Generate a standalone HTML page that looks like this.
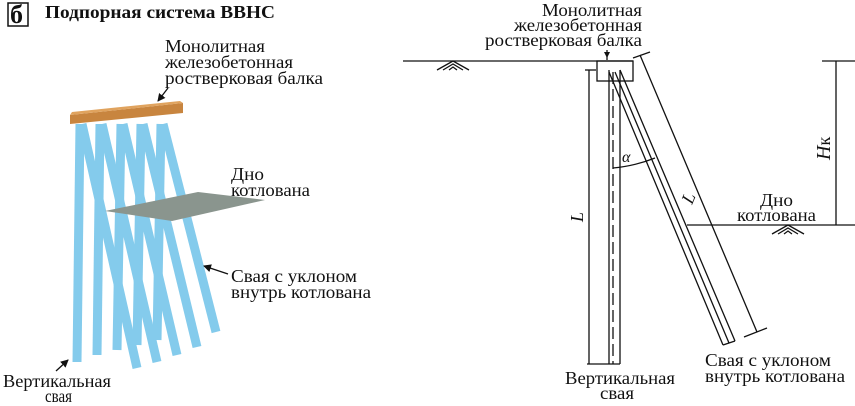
<!DOCTYPE html>
<html><head><meta charset="utf-8"><style>
body{margin:0;background:#fff}
svg{display:block}
text{font-family:"Liberation Serif","Times New Roman",serif;font-size:18px;fill:#111}
</style></head><body>
<svg width="855" height="406" viewBox="0 0 855 406" xmlns="http://www.w3.org/2000/svg" font-family="Liberation Serif, serif">
<defs><marker id="ar" markerWidth="8" markerHeight="8" refX="7" refY="4" orient="auto" markerUnits="userSpaceOnUse"><path d="M0,0 L8,4 L0,8 z" fill="#111"/></marker></defs>
<!-- left -->
<rect x="8" y="3" width="20" height="23" fill="none" stroke="#111" stroke-width="1.5"/>
<text x="10" y="23" style="font-size:26px;font-weight:bold">б</text>
<text x="45" y="18" textLength="230" lengthAdjust="spacingAndGlyphs" style="font-weight:bold;font-size:18px">Подпорная система ВВНС</text>
<g stroke="#84cbec" stroke-width="9" stroke-linecap="butt">
<line x1="80" y1="124" x2="77" y2="362"/>
<line x1="100" y1="124" x2="97" y2="355"/>
<line x1="121" y1="124" x2="117" y2="350"/>
<line x1="141" y1="124" x2="137" y2="345"/>
<line x1="161" y1="124" x2="157" y2="340"/>
<line x1="82" y1="124" x2="137" y2="368"/>
<line x1="102" y1="124" x2="157" y2="362"/>
<line x1="123" y1="124" x2="177" y2="355"/>
<line x1="143" y1="124" x2="197" y2="347"/>
<line x1="163" y1="124" x2="216" y2="332"/>
</g>
<polygon points="105,211 198,192 265,200 172,221" fill="#8a958e"/>
<polygon points="70,115 183,103 183,113 70,124" fill="#c8853f"/>
<polygon points="70,115 183,103 180,101 72,112" fill="#e0a35e"/>
<text x="165" y="52" textLength="100" lengthAdjust="spacingAndGlyphs">Монолитная</text>
<text x="165" y="68" textLength="128" lengthAdjust="spacingAndGlyphs">железобетонная</text>
<text x="165" y="84" textLength="158" lengthAdjust="spacingAndGlyphs">ростверковая балка</text>
<line x1="168" y1="88" x2="158" y2="101" stroke="#111" stroke-width="1.3" marker-end="url(#ar)"/>
<text x="231" y="180" textLength="33" lengthAdjust="spacingAndGlyphs">Дно</text>
<text x="231" y="196" textLength="79" lengthAdjust="spacingAndGlyphs">котлована</text>
<text x="231" y="282" textLength="126" lengthAdjust="spacingAndGlyphs">Свая с уклоном</text>
<text x="231" y="298" textLength="140" lengthAdjust="spacingAndGlyphs">внутрь котлована</text>
<line x1="228" y1="274" x2="204" y2="266" stroke="#111" stroke-width="1.3" marker-end="url(#ar)"/>
<text x="3" y="387" textLength="108" lengthAdjust="spacingAndGlyphs">Вертикальная</text>
<text x="45" y="402" textLength="27" lengthAdjust="spacingAndGlyphs">свая</text>
<line x1="56" y1="371" x2="68" y2="360" stroke="#111" stroke-width="1.3" marker-end="url(#ar)"/>
<!-- right -->
<g stroke="#111" stroke-width="1.3" fill="none">
<line x1="403" y1="61" x2="633" y2="61"/>
<rect x="597" y="61" width="36" height="20"/>
<line x1="609" y1="70" x2="609" y2="364"/>
<line x1="620" y1="70" x2="620" y2="364"/>
<line x1="613" y1="72" x2="613" y2="364" stroke-dasharray="12,5"/>
<line x1="587" y1="364" x2="620" y2="364"/>
<line x1="589" y1="70" x2="589" y2="364"/>
<line x1="585" y1="70" x2="596" y2="70"/>
<line x1="609" y1="72" x2="723" y2="345"/>
<line x1="615" y1="72" x2="729" y2="343"/>
<line x1="620" y1="70" x2="735" y2="341"/>
<line x1="723" y1="345" x2="735" y2="341"/>
<line x1="640" y1="55" x2="757" y2="332"/>
<line x1="633" y1="58" x2="650" y2="52"/>
<line x1="744" y1="337" x2="767" y2="328"/>
<line x1="687" y1="225" x2="855" y2="225"/>
<line x1="836" y1="61" x2="836" y2="225"/>
<line x1="822" y1="61" x2="855" y2="61"/>
<path d="M613,168 Q635,166 655,158"/>
<line x1="607" y1="60" x2="607" y2="50"/>
<path d="M437,70 L453,61 L469,70 M443,70 L453,64 L463,70 M449,70 L453,67 L457,70"/>
<path d="M772,234 L788,225 L804,234 M778,234 L788,228 L798,234 M784,234 L788,231 L792,234"/>
</g>
<path d="M604,52 L607,58 L610,52z" fill="#111"/>
<text x="542" y="16" textLength="100" lengthAdjust="spacingAndGlyphs">Монолитная</text>
<text x="514" y="31" textLength="128" lengthAdjust="spacingAndGlyphs">железобетонная</text>
<text x="485" y="46" textLength="157" lengthAdjust="spacingAndGlyphs">ростверковая балка</text>
<text x="622" y="162" style="font-style:italic;font-size:16px">α</text>
<text x="0" y="0" transform="translate(583,222) rotate(-90)" style="font-style:italic">L</text>
<text x="0" y="0" transform="translate(692,205) rotate(-67)" style="font-style:italic">L</text>
<text x="0" y="0" transform="translate(830,160) rotate(-90)" style="font-style:italic;font-size:20px">H<tspan style="font-style:normal;font-size:18px">к</tspan></text>
<text x="760" y="206" textLength="33" lengthAdjust="spacingAndGlyphs">Дно</text>
<text x="737" y="221" textLength="79" lengthAdjust="spacingAndGlyphs">котлована</text>
<text x="705" y="366" textLength="126" lengthAdjust="spacingAndGlyphs">Свая с уклоном</text>
<text x="705" y="382" textLength="140" lengthAdjust="spacingAndGlyphs">внутрь котлована</text>
<text x="565" y="384" textLength="110" lengthAdjust="spacingAndGlyphs">Вертикальная</text>
<text x="600" y="399" textLength="34" lengthAdjust="spacingAndGlyphs">свая</text>
</svg>
</body></html>
